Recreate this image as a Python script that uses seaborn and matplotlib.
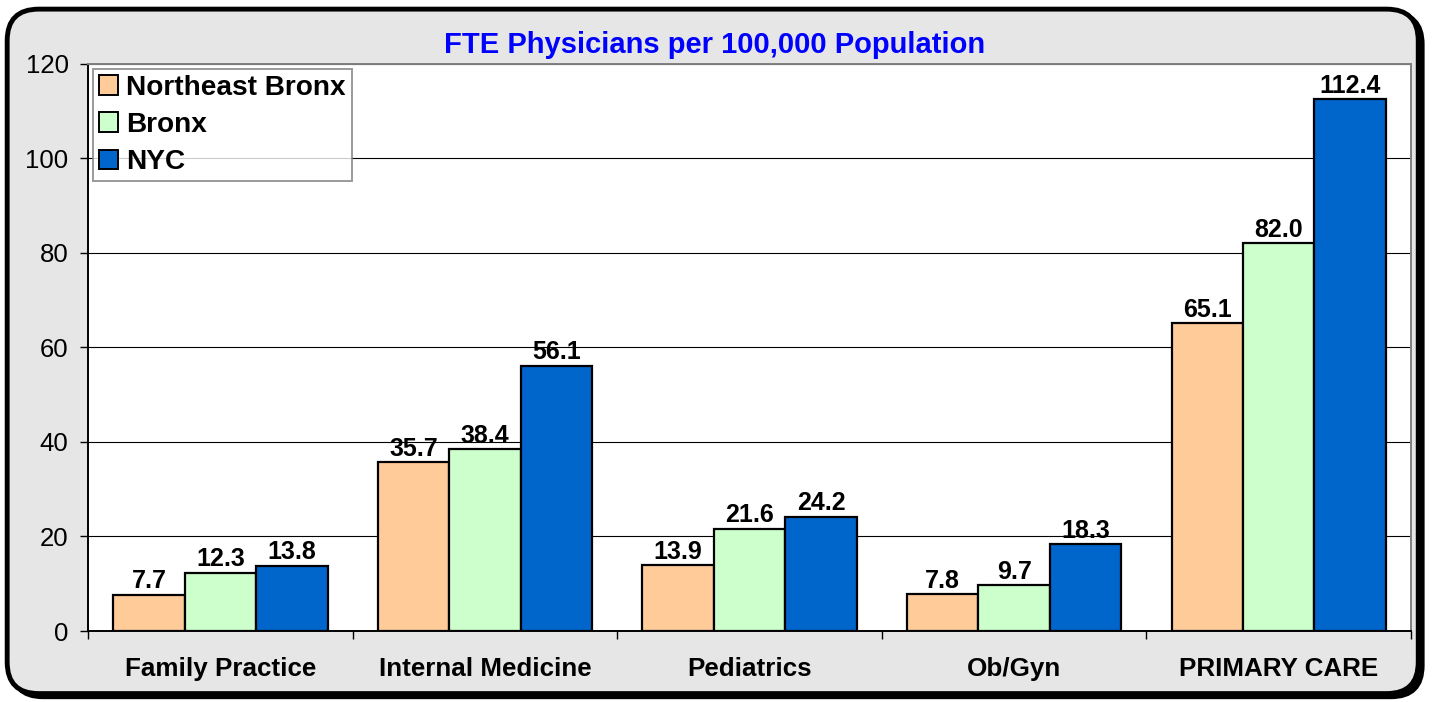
import matplotlib
matplotlib.use("Agg")
import matplotlib.pyplot as plt
import seaborn as sns
import pandas as pd
from matplotlib.patches import FancyBboxPatch
from matplotlib.ticker import FixedLocator

categories = ["Family Practice", "Internal Medicine", "Pediatrics", "Ob/Gyn", "PRIMARY CARE"]
areas = ["Northeast Bronx", "Bronx", "NYC"]
ne_bronx = [7.7, 35.7, 13.9, 7.8, 65.1]
bronx = [12.3, 38.4, 21.6, 9.7, 82.0]
nyc = [13.8, 56.1, 24.2, 18.3, 112.4]
colors = ["#FFCC99", "#CCFFCC", "#0066CC"]

rows = []
for area, vals in zip(areas, [ne_bronx, bronx, nyc]):
    for cat, v in zip(categories, vals):
        rows.append({"Specialty": cat, "Area": area, "Rate": v})
df = pd.DataFrame(rows)

sns.set_style("white")
plt.rcParams["font.family"] = ["Liberation Sans", "DejaVu Sans"]
plt.rcParams["text.color"] = "black"
plt.rcParams["xtick.color"] = "black"
plt.rcParams["ytick.color"] = "black"

fig = plt.figure(figsize=(14.34, 7.02), dpi=100)

# rounded chart frame with shadow
shadow = FancyBboxPatch((0.008, 0.007), 0.984, 0.975, boxstyle="round,pad=0,rounding_size=0.022",
                        transform=fig.transFigure, facecolor="black", edgecolor="black",
                        linewidth=3, mutation_aspect=1434 / 702, zorder=-2)
frame = FancyBboxPatch((0.005, 0.012), 0.984, 0.975, boxstyle="round,pad=0,rounding_size=0.022",
                       transform=fig.transFigure, facecolor="#E6E6E6", edgecolor="black",
                       linewidth=3.5, mutation_aspect=1434 / 702, zorder=-1)
fig.patches.extend([shadow, frame])

ax = fig.add_axes([0.0614, 0.1011, 0.9226, 0.8084])
sns.barplot(data=df, x="Specialty", y="Rate", hue="Area", palette=colors, saturation=1,
            width=0.81, gap=0, edgecolor="black", linewidth=1.6, ax=ax, zorder=3)

for cont in ax.containers:
    ax.bar_label(cont, fmt="%.1f", fontsize=18, fontweight="bold", padding=1)

ax.set_facecolor("white")
ax.set_ylim(0, 120)
ax.set_xlim(-0.5, len(categories) - 0.5)
ax.set_yticks(range(0, 121, 20))
ax.yaxis.grid(True, color="black", linewidth=0.8)
ax.set_axisbelow(True)
ax.tick_params(axis="y", labelsize=18.5, length=6, width=1, color="black", direction="out",
               left=True, pad=8)
ax.tick_params(axis="x", which="major", length=0, labelsize=18.7, pad=19)
ax.xaxis.set_minor_locator(FixedLocator([i - 0.5 for i in range(len(categories) + 1)]))
ax.tick_params(axis="x", which="minor", length=6, width=1, color="black", bottom=True, direction="out")
for lbl in ax.get_xticklabels():
    lbl.set_fontweight("bold")
ax.set_xlabel("")
ax.set_ylabel("")
for side, sp in ax.spines.items():
    sp.set_color("#808080")
    sp.set_linewidth(1.4)
ax.spines["bottom"].set_color("black")
ax.spines["left"].set_color("black")

leg = ax.legend(loc="upper left", bbox_to_anchor=(0.0035, 0.991), frameon=True, fancybox=False,
                edgecolor="#808080", prop={"weight": "bold", "size": 20.2},
                handlelength=0.7, handleheight=0.7, handletextpad=0.28,
                labelspacing=0.4, borderpad=0.22, borderaxespad=0)
leg.get_frame().set_linewidth(1.4)
for h in leg.legend_handles:
    h.set_edgecolor("black")
    h.set_linewidth(1.4)

fig.text(0.4986, 0.936, "FTE Physicians per 100,000 Population", ha="center", va="center",
         color="#0000FF", fontsize=21, fontweight="bold")

fig.savefig("out.png", dpi=100)
